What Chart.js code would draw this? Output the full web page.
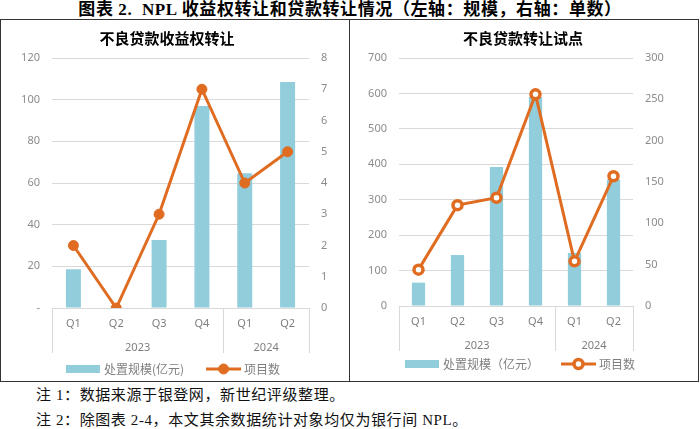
<!DOCTYPE html>
<html>
<head>
<meta charset="utf-8">
<script src="https://cdn.jsdelivr.net/npm/chart.js@4"></script>
<style>
  body { margin: 0; width: 700px; height: 429px; background: #fff; overflow: hidden; position: relative; }
  #title { position: absolute; left: 0; top: 0; width: 700px; text-align: center; font: bold 17px/19px "Liberation Serif", "Noto Sans CJK SC"; letter-spacing: 0.6px; color: #000; }
  #frame { position: absolute; left: 0; top: 19px; width: 699px; height: 363px; box-sizing: border-box; border: 1px solid #333; }
  #divider { position: absolute; left: 349px; top: 19px; width: 1px; height: 363px; background: #333; }
  .note { position: absolute; left: 36px; font: 15px/18px "Liberation Serif", "Noto Sans CJK SC"; letter-spacing: 0.6px; color: #111; }
  canvas { position: absolute; top: 20px; }
  #c1 { left: 1px; }
  #c2 { left: 351px; }
</style>
</head>
<body>
<div id="title">图表 2.&nbsp; NPL 收益权转让和贷款转让情况（左轴：规模，右轴：单数）</div>
<div id="frame"></div>
<div id="divider"></div>
<canvas id="c1" width="347" height="360"></canvas>
<canvas id="c2" width="346" height="360"></canvas>
<div class="note" style="top:386px">注 1：数据来源于银登网，新世纪评级整理。</div>
<div class="note" style="top:411px">注 2：除图表 2-4，本文其余数据统计对象均仅为银行间 NPL。</div>
<script>
// 数据
const quarters = ['Q1', 'Q2', 'Q3', 'Q4', 'Q1', 'Q2'];
const years = ['2023', '2023', '2023', '2023', '2024', '2024'];

// 不良贷款收益权转让
const syqScale = [18.6, 0, 32.6, 97, 64.7, 108.5];   // 处置规模(亿元)
const syqCount = [2, 0, 3, 7, 4, 5];                  // 项目数

// 不良贷款转让试点
const zrScale = [66, 144, 392, 590, 150, 356];        // 处置规模（亿元）
const zrCount = [44, 122, 131, 256, 54, 157];         // 项目数

const BLUE = '#92CDDC';
const ORANGE = '#DF6C21';
const GRID = '#D9D9D9';
const TICK = '#8C8C8C';

// title, year labels, separators & legend drawn by hand
function decor(opt) {
  return {
    id: 'decor',
    afterDraw(chart) {
      const ctx = chart.ctx, a = chart.chartArea, x = chart.scales.x;
      ctx.save();
      ctx.fillStyle = '#000';
      ctx.font = 'bold 15px "Noto Sans CJK SC"';
      ctx.textAlign = 'center';
      ctx.textBaseline = 'middle';
      ctx.fillText(opt.title, opt.titleX, 18);

      // years + separators
      const half = (x.getPixelForValue(1) - x.getPixelForValue(0)) / 2;
      ctx.strokeStyle = GRID;
      ctx.lineWidth = 1;
      ctx.fillStyle = '#7F7F7F';
      ctx.font = '11px "Noto Sans"';
      const sep = xx => {
        const px = Math.round(xx) + 0.5;
        ctx.beginPath();
        ctx.moveTo(px, a.bottom);
        ctx.lineTo(px, a.bottom + 45);
        ctx.stroke();
      };
      let start = 0;
      for (let i = 1; i <= years.length; i++) {
        if (i === years.length || years[i] !== years[start]) {
          const l = x.getPixelForValue(start) - half;
          const r = x.getPixelForValue(i - 1) + half;
          ctx.fillText(years[start], (l + r) / 2, opt.yearY);
          if (start === 0) sep(l);
          sep(r);
          start = i;
        }
      }

      // legend
      const ds = chart.data.datasets;
      ctx.font = '12px "Noto Sans CJK SC"';
      ctx.textAlign = 'left';
      const t1 = ctx.measureText(ds[0].label).width;
      const t2 = ctx.measureText(ds[1].label).width;
      const total = 34 + 4 + t1 + 22 + 35 + 3 + t2;
      let lx = opt.legendX - total / 2;
      const ly = opt.legendY;
      ctx.fillStyle = ds[0].backgroundColor;
      ctx.fillRect(lx, ly - 4, 34, 8);
      ctx.fillStyle = '#7F7F7F';
      ctx.fillText(ds[0].label, lx + 38, ly);
      lx += 38 + t1 + 22;
      ctx.strokeStyle = ds[1].borderColor;
      ctx.lineWidth = ds[1].borderWidth;
      ctx.beginPath();
      ctx.moveTo(lx, ly);
      ctx.lineTo(lx + 35, ly);
      ctx.stroke();
      ctx.beginPath();
      ctx.arc(lx + 17.5, ly, ds[1].pointRadius, 0, Math.PI * 2);
      ctx.fillStyle = ds[1].pointBackgroundColor;
      ctx.fill();
      ctx.lineWidth = ds[1].pointBorderWidth;
      ctx.stroke();
      ctx.fillStyle = '#7F7F7F';
      ctx.fillText(ds[1].label, lx + 38, ly);
      ctx.restore();
    }
  };
}

function buildChart(id, o) {
  return new Chart(document.getElementById(id), {
    type: 'bar',
    data: {
      labels: quarters,
      datasets: [
        { type: 'bar', label: o.barLabel, data: o.bars, yAxisID: 'y', order: 2,
          backgroundColor: BLUE, barPercentage: o.barPct, categoryPercentage: 1 },
        { type: 'line', label: '项目数', data: o.line, yAxisID: 'y1', order: 1,
          borderColor: ORANGE, borderWidth: 3, tension: 0,
          pointRadius: o.pointRadius, pointBorderWidth: o.pointBorder,
          pointBackgroundColor: o.pointFill, pointBorderColor: ORANGE }
      ]
    },
    options: {
      responsive: false,
      animation: false,
      devicePixelRatio: 1,
      layout: { padding: { top: 38, left: 0, right: 0, bottom: 0 } },
      plugins: { legend: { display: false }, tooltip: { enabled: false } },
      scales: {
        x: {
          grid: { display: false, drawTicks: false },
          border: { display: false },
          ticks: { color: '#7F7F7F', font: { family: 'Noto Sans', size: 11 }, padding: 9, maxRotation: 0, autoSkip: false },
          afterFit: s => { s.height = o.xHeight; }
        },
        y: {
          position: 'left', min: 0, max: o.yMax,
          grid: { color: GRID, drawTicks: false },
          border: { display: false },
          ticks: { stepSize: o.yStep, color: TICK, font: { family: 'Noto Sans', size: 11 }, padding: 12,
                   callback: o.yFmt },
          afterFit: s => { s.width = o.yWidth; }
        },
        y1: {
          position: 'right', min: 0, max: o.y1Max,
          grid: { display: false, drawTicks: false },
          border: { display: false },
          ticks: { stepSize: o.y1Step, color: TICK, font: { family: 'Noto Sans', size: 11 }, padding: 12 },
          afterFit: s => { s.width = o.y1Width; }
        }
      }
    },
    plugins: [decor(o)]
  });
}

buildChart('c1', {
  title: '不良贷款收益权转让', titleX: 166,
  barLabel: '处置规模(亿元)', bars: syqScale, line: syqCount,
  barPct: 0.35, pointRadius: 5, pointBorder: 1, pointFill: ORANGE,
  yMax: 120, yStep: 20, y1Max: 8, y1Step: 1,
  yFmt: v => (v === 0 ? '-' : v),
  yWidth: 51, y1Width: 39, xHeight: 72,
  yearY: 328, legendX: 172, legendY: 349
});

buildChart('c2', {
  title: '不良贷款转让试点', titleX: 172,
  barLabel: '处置规模（亿元）', bars: zrScale, line: zrCount,
  barPct: 0.34, pointRadius: 4.5, pointBorder: 3.5, pointFill: '#FFFFFF',
  yMax: 700, yStep: 100, y1Max: 300, y1Step: 50,
  yFmt: v => v,
  yWidth: 48, y1Width: 64, xHeight: 74,
  yearY: 326, legendX: 169, legendY: 344
});
</script>
</body>
</html>
